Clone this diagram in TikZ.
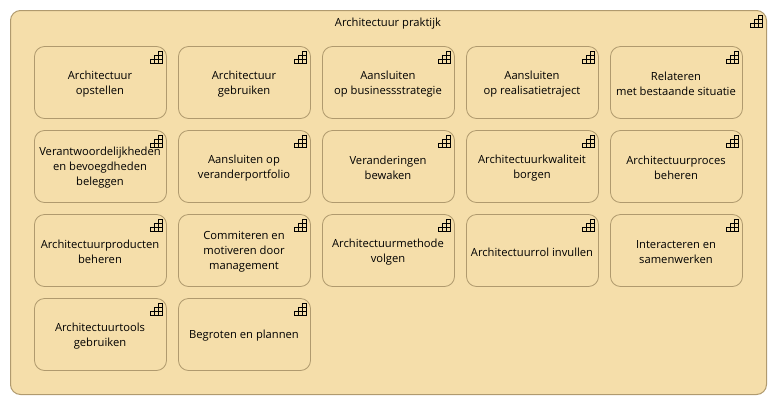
\documentclass[tikz,border=0pt]{standalone}
\usepackage{fontspec}
\setmainfont{Open Sans}
\definecolor{fillc}{HTML}{F5DEAA}
\definecolor{linec}{HTML}{B09A6E}
\tikzset{
  x=1pt,y=-1pt,
  group/.style={draw=linec,fill=fillc,rounded corners=10pt,line width=1pt,inner sep=0pt,minimum width=756pt,minimum height=384pt},
  func/.style={draw=linec,fill=fillc,rounded corners=10pt,line width=0.8pt,inner sep=0pt,minimum width=132pt,minimum height=72pt},
  label/.style={align=center,inner sep=0pt,font=\fontsize{11.2}{15}\selectfont,text=black},
  icon/.pic={
    \draw[black,line width=0.8pt,line cap=rect]
      (-12,0) rectangle (0,-4)
      (-8,0) -- (-8,-8) -- (0,-8)
      (-4,0) -- (-4,-12) -- (0,-12) -- (0,-4);
  }
}
\newcommand{\funcat}[4]{%
  \node[func] (#1) at (#2,#3) {};
  \node[label] (#1t) at (#2-0.5,#3+1.5) {#4};
  \pic at ([xshift=-4.5pt,yshift=-17pt]#1.north east) {icon};
}
\begin{document}
\begin{tikzpicture}
\useasboundingbox (0,0) rectangle (777,405);
\node[group] (g) at (388.5,202.5) {};
\node[label] (t) at (388,23.5) {Architectuur praktijk};
\pic at ([xshift=-4.5pt,yshift=-17pt]g.north east) {icon};
\funcat{a1}{100.5}{82.5}{Architectuur\\opstellen}
\funcat{a2}{244.5}{82.5}{Architectuur\\gebruiken}
\funcat{a3}{388.5}{82.5}{Aansluiten\\op businessstrategie}
\funcat{a4}{532.5}{82.5}{Aansluiten\\op realisatietraject}
\funcat{a5}{676.5}{82.5}{Relateren\\met bestaande situatie}
\funcat{b1}{100.5}{166.5}{Verantwoordelijkheden\\en bevoegdheden\\beleggen}
\funcat{b2}{244.5}{166.5}{Aansluiten op\\veranderportfolio}
\funcat{b3}{388.5}{166.5}{Veranderingen\\bewaken}
\funcat{b4}{532.5}{166.5}{Architectuurkwaliteit\\borgen}
\funcat{b5}{676.5}{166.5}{Architectuurproces\\beheren}
\funcat{c1}{100.5}{250.5}{Architectuurproducten\\beheren}
\funcat{c2}{244.5}{250.5}{Commiteren en\\motiveren door\\management}
\funcat{c3}{388.5}{250.5}{Architectuurmethode\\volgen}
\funcat{c4}{532.5}{250.5}{Architectuurrol invullen}
\funcat{c5}{676.5}{250.5}{Interacteren en\\samenwerken}
\funcat{d1}{100.5}{334.5}{Architectuurtools\\gebruiken}
\funcat{d2}{244.5}{334.5}{Begroten en plannen}
\end{tikzpicture}
\end{document}
